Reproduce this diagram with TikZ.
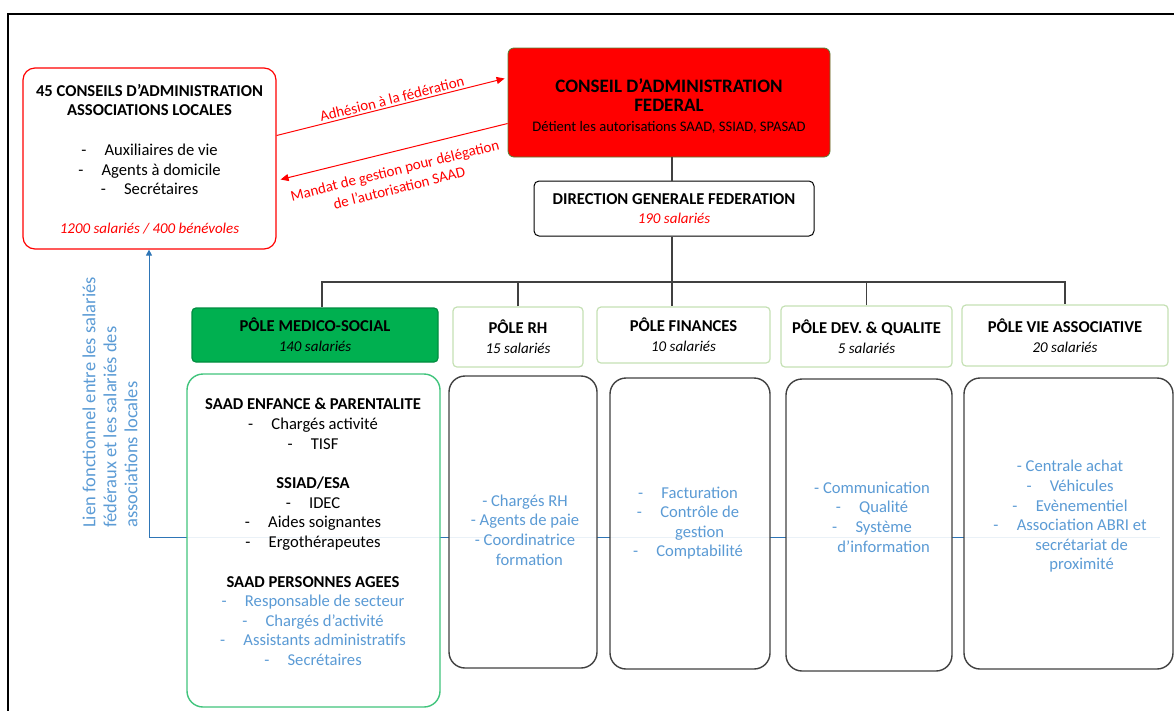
\documentclass[tikz,border=0pt]{standalone}
\usepackage{fontspec}
\setmainfont{Carlito}
\usepackage{xcolor}
\usepackage{tikz}
\usetikzlibrary{positioning,calc,arrows.meta}

\definecolor{rougevif}{RGB}{255,0,0}
\definecolor{vertpole}{RGB}{0,176,80}
\definecolor{vertpale}{RGB}{197,224,180}
\definecolor{vertbord}{RGB}{84,130,53}
\definecolor{bleulien}{RGB}{46,117,182}
\definecolor{bleutexte}{RGB}{91,155,213}
\definecolor{grisfonce}{RGB}{64,64,64}

\newcommand{\tiret}{-\hspace{1.1em}}
\newcommand{\bl}[1]{\textcolor{bleutexte}{#1}}
\newcommand{\nbsal}[1]{{\fontsize{15}{17}\selectfont\itshape #1}}

\begin{document}
\begin{tikzpicture}[x=1pt, y=-1pt,
    every node/.style={font=\fontsize{16.6}{19.6}\selectfont, align=center, inner sep=0pt},
    assocbox/.style={draw=rougevif, line width=1.2pt, rounded corners=12pt},
    fedbox/.style={draw=vertbord, fill=rougevif, line width=0.8pt, rounded corners=6pt},
    dirbox/.style={draw=black, line width=1pt, rounded corners=5pt},
    polehead/.style={draw=vertpale, line width=1.2pt, rounded corners=4pt},
    polebody/.style={draw=grisfonce, line width=1.4pt, rounded corners=16pt, fill=white, fill opacity=0.9},
    trait/.style={grisfonce, line width=1.1pt},
    flecherouge/.style={rougevif, line width=1pt, -{Triangle[width=7pt,length=8pt]}},
    lien/.style={bleulien, line width=1pt, -{Triangle[width=6pt,length=6pt]}},
    etiquette/.style={text=rougevif, rotate=14, font=\fontsize{15}{18}\selectfont}]
    \useasboundingbox (0,0) rectangle (1174,710);

    % Page frame
    \draw[line width=2pt] (8,730) |- (1190,14);

    % Local associations
    \node[assocbox, minimum width=253pt, minimum height=181pt] (assoc) at (149.5,158.5) {};
    \node (tassoc) at (149.5,159) {\textbf{45 CONSEILS D’ADMINISTRATION}\\
        \textbf{ASSOCIATIONS LOCALES}\\[20pt]
        \tiret Auxiliaires de vie\\
        \tiret Agents à domicile\\
        \tiret Secrétaires\\[19pt]
        \textcolor{rougevif}{\itshape\fontsize{15}{17}\selectfont 1200 salariés / 400 bénévoles}};

    % Federal board
    \node[fedbox, minimum width=322pt, minimum height=109pt] (cafed) at (669,102.5) {};
    \node (tcafed) at (669,106) {\fontsize{19}{25}\selectfont\bfseries CONSEIL D’ADMINISTRATION\\
        \fontsize{19}{25}\selectfont\bfseries FEDERAL\\
        \fontsize{14.6}{23}\selectfont Détient les autorisations SAAD, SSIAD, SPASAD};

    % General management
    \node[dirbox, minimum width=280pt, minimum height=55pt] (dirgen) at (674,208.5)
        {\textbf{DIRECTION GENERALE FEDERATION}\\\textcolor{rougevif}{\nbsal{190 salariés}}};

    % Red arrows between local and federal boards
    \draw[flecherouge] ([yshift=23pt]assoc.east) -- ([xshift=-3pt,yshift=24pt]cafed.west);
    \node[etiquette] (ladh) at (392,99) {Adhésion à la fédération};
    \draw[flecherouge] ([yshift=-21pt]cafed.west) -- ([xshift=4pt,yshift=-21pt]assoc.east);
    \node[etiquette] (lmandat) at (397,179) {Mandat de gestion pour délégation\\de l’autorisation SAAD};

    % Functional link (drawn below the boxes)
    \coordinate (lienG) at (149,537);
    \coordinate (lienD) at (1160,537);
    \draw[lien] (lienD) -- (lienG) -- (lienG |- assoc.south);
    \node[rotate=90, align=left, text=bleutexte, font=\fontsize{18.5}{21}\selectfont] (tlien) at (110,402.5)
        {Lien fonctionnel entre les salariés\\fédéraux et les salariés des\\associations locales};

    % Pole headers
    \node[polehead, draw=vertpole!80!black, fill=vertpole, minimum width=246pt, minimum height=54pt] (pmed) at (315,335)
        {\textbf{PÔLE MEDICO-SOCIAL}\\\nbsal{140 salariés}};
    \node[polehead, minimum width=130pt, minimum height=60pt] (prh) at (518,337)
        {\textbf{PÔLE RH}\\\nbsal{15 salariés}};
    \node[polehead, minimum width=173pt, minimum height=56pt] (pfin) at (683.5,335)
        {\textbf{PÔLE FINANCES}\\\nbsal{10 salariés}};
    \node[polehead, minimum width=171pt, minimum height=61pt] (pdev) at (866.5,336.5)
        {\textbf{PÔLE DEV. \& QUALITE}\\\nbsal{5 salariés}};
    \node[polehead, minimum width=206pt, minimum height=61pt] (pvie) at (1065,335.5)
        {\textbf{PÔLE VIE ASSOCIATIVE}\\\nbsal{20 salariés}};

    % Tree
    \coordinate (tronc) at (672,282);
    \draw[trait] (cafed.south -| tronc) -- (dirgen.north -| tronc);
    \draw[trait] (dirgen.south -| tronc) -- (pfin.north -| tronc);
    \draw[trait] ([xshift=7pt]pmed.north) |- (tronc) -| (pvie.north);
    \draw[trait] (prh.north) -- (prh.north |- tronc);
    \draw[trait] (pdev.north) -- (pdev.north |- tronc);

    % Pole bodies
    \node[polebody, draw=vertpole!75, minimum width=253pt, minimum height=333pt] (bmed) at (313.5,540.5) {};
    \node[polebody, minimum width=148pt, minimum height=292pt] (brh) at (523,522) {};
    \node[polebody, minimum width=160pt, minimum height=291pt] (bfin) at (690,523.5) {};
    \node[polebody, minimum width=166pt, minimum height=292pt] (bdev) at (869,525) {};
    \node[polebody, minimum width=209pt, minimum height=291pt] (bvie) at (1068.5,523.5) {};

    % Pole contents
    \node (tmed) at (313,532) {\textbf{SAAD ENFANCE \& PARENTALITE}\\
        \tiret Chargés activité\\
        \tiret TISF\\[20pt]
        \textbf{SSIAD/ESA}\\
        \tiret IDEC\\
        \tiret Aides soignantes\\
        \tiret Ergothérapeutes\\[20pt]
        \textbf{SAAD PERSONNES AGEES}\\
        \bl{\tiret Responsable de secteur}\\
        \bl{\tiret Chargés d’activité}\\
        \bl{\tiret Assistants administratifs}\\
        \bl{\tiret Secrétaires}};
    \node[text=bleutexte] (trh) at (525,530) {- Chargés RH\\- Agents de paie\\- Coordinatrice\\\phantom{- }formation};
    \node[text=bleutexte] (tfin) at (688,523) {\tiret Facturation\\\tiret Contrôle de\\\phantom{\tiret}gestion\\\tiret Comptabilité};
    \node[text=bleutexte] (tdev) at (872,517) {- Communication\\\tiret Qualité\\\tiret Système\\\phantom{\tiret}d’information};
    \node[text=bleutexte] (tvie) at (1070,516.5) {- Centrale achat\\\tiret Véhicules\\\tiret Evènementiel\\
        \tiret Association ABRI et\\\phantom{\tiret}secrétariat de\\\phantom{\tiret}proximité};
\end{tikzpicture}
\end{document}
